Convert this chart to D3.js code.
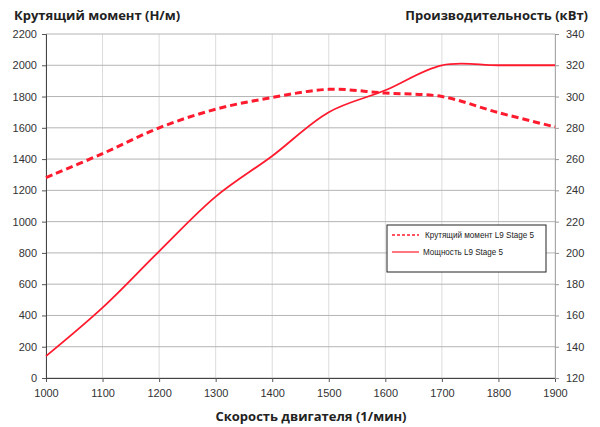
<!DOCTYPE html>
<html>
<head>
<meta charset="utf-8">
<script src="https://cdn.jsdelivr.net/npm/d3@7"></script>
<style>
  body { margin: 0; background: #fff; }
  text { font-family: "Liberation Sans", Arial, sans-serif; }
  .title { font-family: "Open Sans", "DejaVu Sans", sans-serif; font-weight: bold; font-size: 13px; fill: #222; }
</style>
</head>
<body>
<script>
// engine speed, 1/min
let rpm = [1000, 1100, 1200, 1300, 1400, 1500, 1600, 1700, 1800, 1900];
// torque, N/m (left axis)
let torque = [1282, 1435, 1600, 1719, 1794, 1846, 1822, 1800, 1697, 1606];
// power, kW (right axis)
let power = [134, 165, 201, 236, 262, 290, 304, 320, 320, 320];

let leftTicks = [0, 200, 400, 600, 800, 1000, 1200, 1400, 1600, 1800, 2000, 2200];
let rightTicks = [120, 140, 160, 180, 200, 220, 240, 260, 280, 300, 320, 340];
let seriesNames = ["Крутящий момент L9 Stage 5", "Мощность L9 Stage 5"];

let margin = { top: 34, right: 45, bottom: 49, left: 46 };
let width = 600 - margin.left - margin.right;
let height = 427 - margin.top - margin.bottom;

let svg = d3.select("body")
  .append("svg")
    .attr("width", 600)
    .attr("height", 427);

let g = svg.append("g")
    .attr("transform", "translate(" + margin.left + "," + margin.top + ")");

let x = d3.scaleLinear().domain([1000, 1900]).range([0, width]);
let yL = d3.scaleLinear().domain([0, 2200]).range([height, 0]);
let yR = d3.scaleLinear().domain([120, 340]).range([height, 0]);

// grid
g.selectAll(".vgrid")
  .data(rpm).enter().append("line")
  .attr("x1", (d) => x(d)).attr("x2", (d) => x(d))
  .attr("y1", 0).attr("y2", height)
  .attr("stroke", "#dcdcdc").attr("stroke-width", 1);

g.selectAll(".hgrid")
  .data(leftTicks).enter().append("line")
  .attr("x1", 0).attr("x2", width)
  .attr("y1", (d) => yL(d)).attr("y2", (d) => yL(d))
  .attr("stroke", "#b4b4b4").attr("stroke-width", 1);

// axes
let xAxis = g.append("g")
  .attr("transform", "translate(0," + height + ")")
  .call(d3.axisBottom(x).tickValues(rpm).tickSize(4).tickFormat(d3.format("d")));
let leftAxis = g.append("g")
  .call(d3.axisLeft(yL).tickValues(leftTicks).tickSize(4).tickFormat(d3.format("d")));
let rightAxis = g.append("g")
  .attr("transform", "translate(" + width + ",0)")
  .call(d3.axisRight(yR).tickValues(rightTicks).tickSize(4).tickFormat(d3.format("d")));

[xAxis, leftAxis, rightAxis].forEach((a) => {
  a.selectAll("text").attr("font-size", 11).attr("fill", "#333")
    .attr("font-family", "Liberation Sans, Arial, sans-serif");
  a.selectAll("line").attr("stroke", "#555");
  a.select(".domain").attr("stroke", "#444");
});
rightAxis.selectAll("line").attr("stroke", "#999");
rightAxis.select(".domain").attr("stroke", "#aaa");
xAxis.selectAll("text").attr("dy", "1.1em");
leftAxis.selectAll("text").attr("dx", "-2");
rightAxis.selectAll("text").attr("dx", "4");

// lines
let torqueLine = d3.line()
  .x((d, i) => x(rpm[i]))
  .y((d) => yL(d))
  .curve(d3.curveCatmullRom);
let powerLine = d3.line()
  .x((d, i) => x(rpm[i]))
  .y((d) => yR(d))
  .curve(d3.curveCatmullRom);

g.append("path")
  .attr("d", torqueLine(torque))
  .attr("fill", "none").attr("stroke", "#ff1a2e")
  .attr("stroke-width", 3).attr("stroke-dasharray", "7,4");

g.append("path")
  .attr("d", powerLine(power))
  .attr("fill", "none").attr("stroke", "#ff1a2e")
  .attr("stroke-width", 1.8);

// titles
svg.append("text").attr("class", "title")
  .attr("x", 14).attr("y", 20).text("Крутящий момент (Н/м)");
svg.append("text").attr("class", "title")
  .attr("x", 588).attr("y", 20).attr("text-anchor", "end")
  .text("Производительность (кВт)");
svg.append("text").attr("class", "title")
  .attr("x", 311).attr("y", 421).attr("text-anchor", "middle")
  .text("Скорость двигателя (1/мин)");

// legend
let legend = svg.append("g").attr("transform", "translate(387,225)");
legend.append("rect")
  .attr("width", 159).attr("height", 47)
  .attr("fill", "#fff").attr("stroke", "#222").attr("stroke-width", 1);
legend.selectAll(".lg-line")
  .data(seriesNames).enter().append("line")
  .attr("x1", 5).attr("x2", 32)
  .attr("y1", (d, i) => 10 + i * 17).attr("y2", (d, i) => 10 + i * 17)
  .attr("stroke", "#ff1a2e")
  .attr("stroke-width", (d, i) => i === 0 ? 1.5 : 1.2)
  .attr("stroke-dasharray", (d, i) => i === 0 ? "3,2" : null);
legend.selectAll(".lg-text")
  .data(seriesNames).enter().append("text")
  .attr("x", (d, i) => i === 0 ? 38 : 36)
  .attr("y", (d, i) => 13 + i * 17)
  .attr("font-size", 8.5).attr("fill", "#222")
  .attr("textLength", (d, i) => i === 0 ? 109 : 80)
  .attr("lengthAdjust", "spacingAndGlyphs")
  .text((d) => d);
</script>
</body>
</html>
